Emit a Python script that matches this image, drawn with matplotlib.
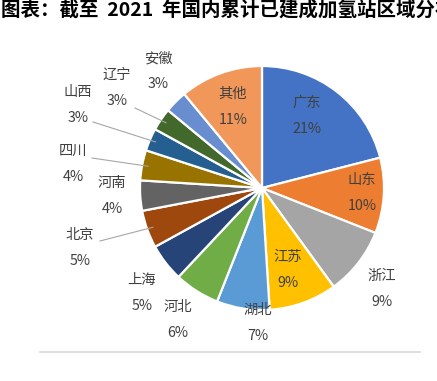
import numpy as np
import matplotlib
matplotlib.use("Agg")
import matplotlib.pyplot as plt

plt.rcParams['font.family'] = ['Noto Sans CJK SC', 'DejaVu Sans']

# ---- data ----
regions = ["广东", "山东", "浙江", "江苏", "湖北", "河北", "上海", "北京",
           "河南", "四川", "山西", "辽宁", "安徽", "其他"]
shares = [21, 10, 9, 9, 7, 6, 5, 5, 4, 4, 3, 3, 3, 11]
colors = ["#4472C4", "#ED7D31", "#A5A5A5", "#FFC000", "#5B9BD5", "#70AD47",
          "#264478", "#9E480E", "#636363", "#997300", "#255E91", "#43682B",
          "#698ED0", "#F1975A"]
title = "图表：截至  2021  年国内累计已建成加氢站区域分布"

# ---- layout (pixel coordinates, y measured from top) ----
W, H = 437, 381
cx, cy, R = 262, 188, 122
label_pos = {
    "广东": (307, 103), "山东": (362, 180), "浙江": (382, 276),
    "江苏": (288, 257), "湖北": (258, 310), "河北": (178, 307),
    "上海": (142, 280), "北京": (80, 235), "河南": (112, 183),
    "四川": (73, 151), "山西": (78, 92), "辽宁": (117, 75),
    "安徽": (158, 58), "其他": (233, 94),
}
leader_start = {"辽宁": (135, 108), "山西": (93, 122), "四川": (92, 158),
                "北京": (100, 241)}
line_gap = 26

fig = plt.figure(figsize=(W / 100, H / 100), dpi=100)
ax = fig.add_axes([0, 0, 1, 1])

wedges, _ = ax.pie(shares, colors=colors, startangle=90, counterclock=False,
                   center=(cx, H - cy), radius=R,
                   wedgeprops=dict(edgecolor="white", linewidth=1.6))
ax.set_xlim(0, W)
ax.set_ylim(0, H)
ax.set_aspect("equal")
ax.axis("off")

for name, val, w in zip(regions, shares, wedges):
    x, y = label_pos[name]
    ax.text(x, H - y, name, ha="center", va="center", fontsize=10.3, color="#404040")
    ax.text(x, H - y - line_gap, f"{val}%", ha="center", va="center",
            fontsize=10.3, color="#404040")
    if name in leader_start:
        ang = np.deg2rad((w.theta1 + w.theta2) / 2)
        ex = cx + (R - 6) * np.cos(ang)
        ey = (H - cy) + (R - 6) * np.sin(ang)
        sx, sy = leader_start[name]
        ax.plot([sx, ex], [H - sy, ey], color="#A6A6A6", lw=0.8)

# bottom rule
ax.plot([40, 420], [H - 352, H - 352], color="#D9D9D9", lw=1.2)

fig.text(1 / W, 1 - 10 / H, title, ha="left", va="center", fontsize=14,
         fontweight="bold", color="black")

fig.savefig("out.png", dpi=100)
